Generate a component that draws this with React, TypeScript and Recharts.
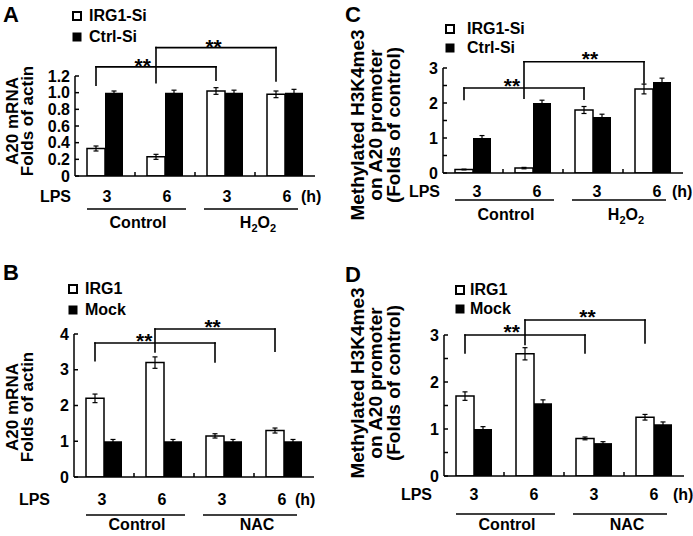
import { BarChart, Bar, XAxis, YAxis, ErrorBar, ReferenceLine, Legend } from 'recharts';

const FONT = '"Liberation Sans", Arial, Helvetica, sans-serif';
const TXT = { fontFamily: FONT, fontSize: 16, fontWeight: 700, fill: '#000' };

// LPS time points (h) and the treatment group each bar pair belongs to
const HOURS = ['3', '6', '3', '6'];
const GROUP_OF = [0, 0, 1, 1];
const GROUPS_H2O2 = ['Control', 'H2O2'];
const GROUPS_NAC = ['Control', 'NAC'];
const SERIES_SI = ['IRG1-Si', 'Ctrl-Si'];
const SERIES_OE = ['IRG1', 'Mock'];

// A: A20 mRNA, folds of actin
const A_IRG1SI = [0.33, 0.23, 1.02, 0.98];
const A_IRG1SI_ERR = [0.03, 0.03, 0.04, 0.04];
const A_CTRLSI = [1.0, 1.0, 1.0, 1.0];
const A_CTRLSI_ERR = [0.02, 0.03, 0.03, 0.04];
const A_TICKS = [0, 0.2, 0.4, 0.6, 0.8, 1.0, 1.2];

// B: A20 mRNA, folds of actin
const B_IRG1 = [2.2, 3.2, 1.15, 1.3];
const B_IRG1_ERR = [0.12, 0.16, 0.06, 0.07];
const B_MOCK = [1.0, 1.0, 1.0, 1.0];
const B_MOCK_ERR = [0.05, 0.05, 0.05, 0.05];
const B_TICKS = [0, 1, 2, 3, 4];

// C: methylated H3K4me3 on A20 promoter
const C_IRG1SI = [0.1, 0.14, 1.8, 2.4];
const C_IRG1SI_ERR = [0.01, 0.02, 0.1, 0.14];
const C_CTRLSI = [1.0, 2.0, 1.6, 2.6];
const C_CTRLSI_ERR = [0.07, 0.08, 0.08, 0.11];

// D: methylated H3K4me3 on A20 promoter
const D_IRG1 = [1.7, 2.6, 0.8, 1.25];
const D_IRG1_ERR = [0.09, 0.13, 0.03, 0.06];
const D_MOCK = [1.0, 1.55, 0.7, 1.1];
const D_MOCK_ERR = [0.05, 0.07, 0.03, 0.05];

const HALF_TICKS = [0, 0.5, 1, 1.5, 2, 2.5, 3];

// significance brackets (** p<0.01), in data units
const A_BRACKETS = [
  { from: 0, to: 2, top: 1.31, left: 1.09, right: 1.15 },
  { from: 1, to: 3, top: 1.54, left: 1.12, right: 1.14 },
];
const B_BRACKETS = [
  { from: 0, to: 2, top: 3.75, left: 3.25, right: 3.22 },
  { from: 1, to: 3, top: 4.14, left: 3.5, right: 3.52 },
];
const C_BRACKETS = [
  { from: 0, to: 2, top: 2.43, left: 2.1, right: 2.11 },
  { from: 1, to: 3, top: 3.18, left: 2.14, right: 2.57 },
];
const D_BRACKETS = [
  { from: 0, to: 2, top: 3.0, left: 2.62, right: 2.62 },
  { from: 1, to: 3, top: 3.32, left: 2.8, right: 2.83 },
];

const UNDERLINE = [[-18, 21], [-21, 13]];

const fmtDecimal = (v: number) => (v === 0 ? '0' : v.toFixed(1));
const fmtInt = (v: number) => (Number.isInteger(v) ? String(v) : '');

const PANELS = [
  {
    id: 'A', box: { x: 0, y: 0, w: 340, h: 240 }, plot: { x0: 75, x1: 315, y0: 76, y1: 176 },
    domain: [0, 1.2], ticks: A_TICKS, fmt: fmtDecimal, names: SERIES_SI, groups: GROUPS_H2O2,
    series: [A_IRG1SI, A_IRG1SI_ERR, A_CTRLSI, A_CTRLSI_ERR], brackets: A_BRACKETS,
    stars: [{ frac: 0.39, lift: 5 }, { frac: 0.48, lift: 5 }],
    legend: { x: 72, y: 5, rowH: 21, gap: 7 }, letter: { x: 3, y: 22 },
    yLabel: { lines: ['A20 mRNA', 'Folds of actin'], xs: [12, 27], cy: 121, size: 17 },
    xText: { num: 26, under: 33, group: 52, numDx: 2, lpsDx: -4, hDx: 16 },
  },
  {
    id: 'B', box: { x: 0, y: 260, w: 340, h: 276 }, plot: { x0: 74, x1: 314, y0: 334, y1: 477 },
    domain: [0, 4], ticks: B_TICKS, fmt: fmtInt, names: SERIES_OE, groups: GROUPS_NAC,
    series: [B_IRG1, B_IRG1_ERR, B_MOCK, B_MOCK_ERR], brackets: B_BRACKETS,
    stars: [{ frac: 0.41, lift: 6 }, { frac: 0.48, lift: 6 }],
    legend: { x: 68, y: 18.5, rowH: 21, gap: 7 }, letter: { x: 3, y: 280 },
    yLabel: { lines: ['A20 mRNA', 'Folds of actin'], xs: [12, 27], cy: 407, size: 17 },
    xText: { num: 28, under: 38, group: 53, numDx: -2, lpsDx: -24, hDx: 11 },
  },
  {
    id: 'C', box: { x: 340, y: 0, w: 353, h: 240 }, plot: { x0: 443, x1: 683, y0: 68, y1: 173 },
    domain: [0, 3], ticks: HALF_TICKS, fmt: fmtInt, names: SERIES_SI, groups: GROUPS_H2O2,
    series: [C_IRG1SI, C_IRG1SI_ERR, C_CTRLSI, C_CTRLSI_ERR], brackets: C_BRACKETS,
    stars: [{ frac: 0.4, lift: 6 }, { frac: 0.55, lift: 7 }],
    legend: { x: 105, y: 19.5, rowH: 19, gap: 12 }, letter: { x: 345, y: 22 },
    yLabel: { lines: ['Methylated H3K4me3', 'on A20 promoter', '(Folds of control)'], xs: [357, 375, 393], cy: 125, size: 19 },
    xText: { num: 24, under: 27, group: 47, numDx: 4, lpsDx: -3, hDx: 19 },
  },
  {
    id: 'D', box: { x: 340, y: 260, w: 353, h: 276 }, plot: { x0: 444, x1: 684, y0: 335, y1: 476 },
    domain: [0, 3], ticks: HALF_TICKS, fmt: fmtInt, names: SERIES_OE, groups: GROUPS_NAC,
    series: [D_IRG1, D_IRG1_ERR, D_MOCK, D_MOCK_ERR], brackets: D_BRACKETS,
    stars: [{ frac: 0.39, lift: 8 }, { frac: 0.52, lift: 7 }],
    legend: { x: 115, y: 20.5, rowH: 19, gap: 5 }, letter: { x: 345, y: 282 },
    yLabel: { lines: ['Methylated H3K4me3', 'on A20 promoter', '(Folds of control)'], xs: [357, 375, 393], cy: 383, size: 19 },
    xText: { num: 24, under: 38, group: 54, numDx: 0, lpsDx: -12, hDx: 19 },
  },
];

type PanelCfg = (typeof PANELS)[number];

// "H2O2" -> H with subscript 2, etc.
function chem(label: string) {
  const parts = label.match(/\d+|\D+/g) || [label];
  let down = false;
  return parts.map((part, i) => {
    const isSub = /^\d+$/.test(part);
    const dy = isSub ? (down ? 0 : 4) : down ? -4 : 0;
    down = isSub;
    return (
      <tspan key={i} dy={dy} fontSize={isSub ? 11 : 16}>
        {part}
      </tspan>
    );
  });
}

function XTick(props: any) {
  const { x, y, index, cfg, band } = props;
  const t = cfg.xText;
  const g = GROUP_OF[index];
  const firstOfGroup = index === 0 || GROUP_OF[index - 1] !== g;
  return (
    <g>
      <text x={x + t.numDx} y={y + t.num} textAnchor="middle" {...TXT}>{HOURS[index]}</text>
      {index < HOURS.length - 1 && (
        <line x1={x + band / 2} x2={x + band / 2} y1={y} y2={y - 4} stroke="#000" strokeWidth={1.5} />
      )}
      {index === 0 && (
        <text x={x - band / 2 + t.lpsDx} y={y + t.num} textAnchor="end" {...TXT}>LPS</text>
      )}
      {index === HOURS.length - 1 && (
        <text x={x + t.hDx} y={y + t.num} textAnchor="start" {...TXT}>(h)</text>
      )}
      {firstOfGroup && (
        <>
          <line x1={x + UNDERLINE[g][0]} x2={x + band + UNDERLINE[g][1]} y1={y + t.under} y2={y + t.under} stroke="#000" strokeWidth={1.5} />
          <text x={x + band / 2 + 3} y={y + t.group} textAnchor="middle" {...TXT}>{chem(cfg.groups[g])}</text>
        </>
      )}
    </g>
  );
}

function YTick(props: any) {
  const { x, y, payload, cfg } = props;
  const label = cfg.fmt(payload.value);
  return (
    <g>
      <line x1={x + 5} x2={x + 9} y1={y} y2={y} stroke="#000" strokeWidth={1.5} />
      {label !== '' && (
        <text x={x} y={y} dy="0.35em" textAnchor="end" {...TXT}>{label}</text>
      )}
    </g>
  );
}

function LegendBox({ names, rowH, gap }: { names: string[]; rowH: number; gap: number }) {
  return (
    <div style={{ fontFamily: FONT, fontSize: 16, fontWeight: 700, color: '#000' }}>
      {names.map((n, i) => (
        <div key={n} style={{ display: 'flex', alignItems: 'center', height: rowH, whiteSpace: 'nowrap' }}>
          <svg width={10} height={10} style={{ display: 'block' }}>
            {i === 0 ? (
              <rect x={1} y={1} width={8} height={8} fill="#fff" stroke="#000" strokeWidth={2} />
            ) : (
              <rect x={0.5} y={0.5} width={9} height={9} fill="#000" />
            )}
          </svg>
          <span style={{ marginLeft: gap, lineHeight: '18px' }}>{n}</span>
        </div>
      ))}
    </div>
  );
}

function Panel({ cfg }: { cfg: PanelCfg }) {
  const { box, plot } = cfg;
  const band = (plot.x1 - plot.x0) / HOURS.length;
  const shift = -band * 0.15; // centre of the open bar within its category
  const keys = HOURS.map((h, i) => `${cfg.groups[GROUP_OF[i]]} ${h}`);
  const [s1, e1, s2, e2] = cfg.series;
  const rows = keys.map((k, i) => ({ key: k, v1: s1[i], e1: e1[i], v2: s2[i], e2: e2[i] }));
  const margin = {
    left: plot.x0 - box.x - 1,
    right: box.x + box.w - plot.x1,
    top: plot.y0 - box.y,
    bottom: box.y + box.h - plot.y1 - 1,
  };
  const leg = (s: any) => (
    <line x1={s.x1 + shift} y1={s.y1} x2={s.x2 + shift} y2={s.y2} stroke="#000" strokeWidth={1.6} strokeLinecap="square" />
  );

  return (
    <div style={{ position: 'absolute', left: box.x, top: box.y }}>
      <BarChart width={box.w} height={box.h} data={rows} margin={margin} barCategoryGap="20%" barGap={0}>
        <XAxis
          dataKey="key"
          height={1}
          interval={0}
          tickLine={false}
          tickSize={0}
          tickMargin={0}
          axisLine={{ stroke: '#000', strokeWidth: 1.5 }}
          tick={(p: any) => <XTick {...p} cfg={cfg} band={band} />}
        />
        <YAxis
          width={1}
          domain={cfg.domain}
          ticks={cfg.ticks}
          allowDataOverflow
          interval={0}
          tickLine={false}
          tickSize={0}
          tickMargin={5}
          axisLine={{ stroke: '#000', strokeWidth: 1.5 }}
          tick={(p: any) => <YTick {...p} cfg={cfg} />}
        />
        <Legend
          layout="vertical"
          align="center"
          verticalAlign="middle"
          wrapperStyle={{ left: cfg.legend.x, top: cfg.legend.y, width: 'auto' }}
          content={() => <LegendBox names={cfg.names} rowH={cfg.legend.rowH} gap={cfg.legend.gap} />}
        />
        <Bar dataKey="v1" name={cfg.names[0]} fill="#fff" stroke="#000" strokeWidth={1.5} isAnimationActive={false}>
          <ErrorBar dataKey="e1" width={2.5} stroke="#000" strokeWidth={1.2} />
        </Bar>
        <Bar dataKey="v2" name={cfg.names[1]} fill="#000" isAnimationActive={false}>
          <ErrorBar dataKey="e2" width={2.5} stroke="#000" strokeWidth={1.2} />
        </Bar>
        {cfg.brackets.map((b, i) => {
          const star = cfg.stars[i];
          return [
            <ReferenceLine
              key={`top${i}`}
              ifOverflow="visible"
              segment={[{ x: keys[b.from], y: b.top }, { x: keys[b.to], y: b.top }]}
              shape={(s: any) => (
                <g>
                  {leg(s)}
                  <text
                    x={s.x1 + shift + star.frac * (s.x2 - s.x1)}
                    y={s.y1 - star.lift + 11.5}
                    textAnchor="middle"
                    {...TXT}
                    fontSize={21}
                  >
                    **
                  </text>
                </g>
              )}
            />,
            <ReferenceLine
              key={`l${i}`}
              ifOverflow="visible"
              segment={[{ x: keys[b.from], y: b.top }, { x: keys[b.from], y: b.left }]}
              shape={leg}
            />,
            <ReferenceLine
              key={`r${i}`}
              ifOverflow="visible"
              segment={[{ x: keys[b.to], y: b.top }, { x: keys[b.to], y: b.right }]}
              shape={leg}
            />,
          ];
        })}
      </BarChart>
    </div>
  );
}

export default function App() {
  return (
    <div style={{ position: 'absolute', left: 0, top: 0, width: 693, height: 536, background: '#fff', overflow: 'hidden' }}>
      {PANELS.map((p) => (
        <Panel key={p.id} cfg={p} />
      ))}
      <svg width={693} height={536} style={{ position: 'absolute', left: 0, top: 0, pointerEvents: 'none' }}>
        {PANELS.map((p) => (
          <g key={p.id}>
            <text x={p.letter.x} y={p.letter.y} {...TXT} fontSize={22}>{p.id}</text>
            {p.yLabel.lines.map((line, i) => (
              <text
                key={line}
                transform={`translate(${p.yLabel.xs[i]},${p.yLabel.cy}) rotate(-90)`}
                textAnchor="middle"
                dominantBaseline="central"
                {...TXT}
                fontSize={p.yLabel.size}
              >
                {line}
              </text>
            ))}
          </g>
        ))}
      </svg>
    </div>
  );
}
